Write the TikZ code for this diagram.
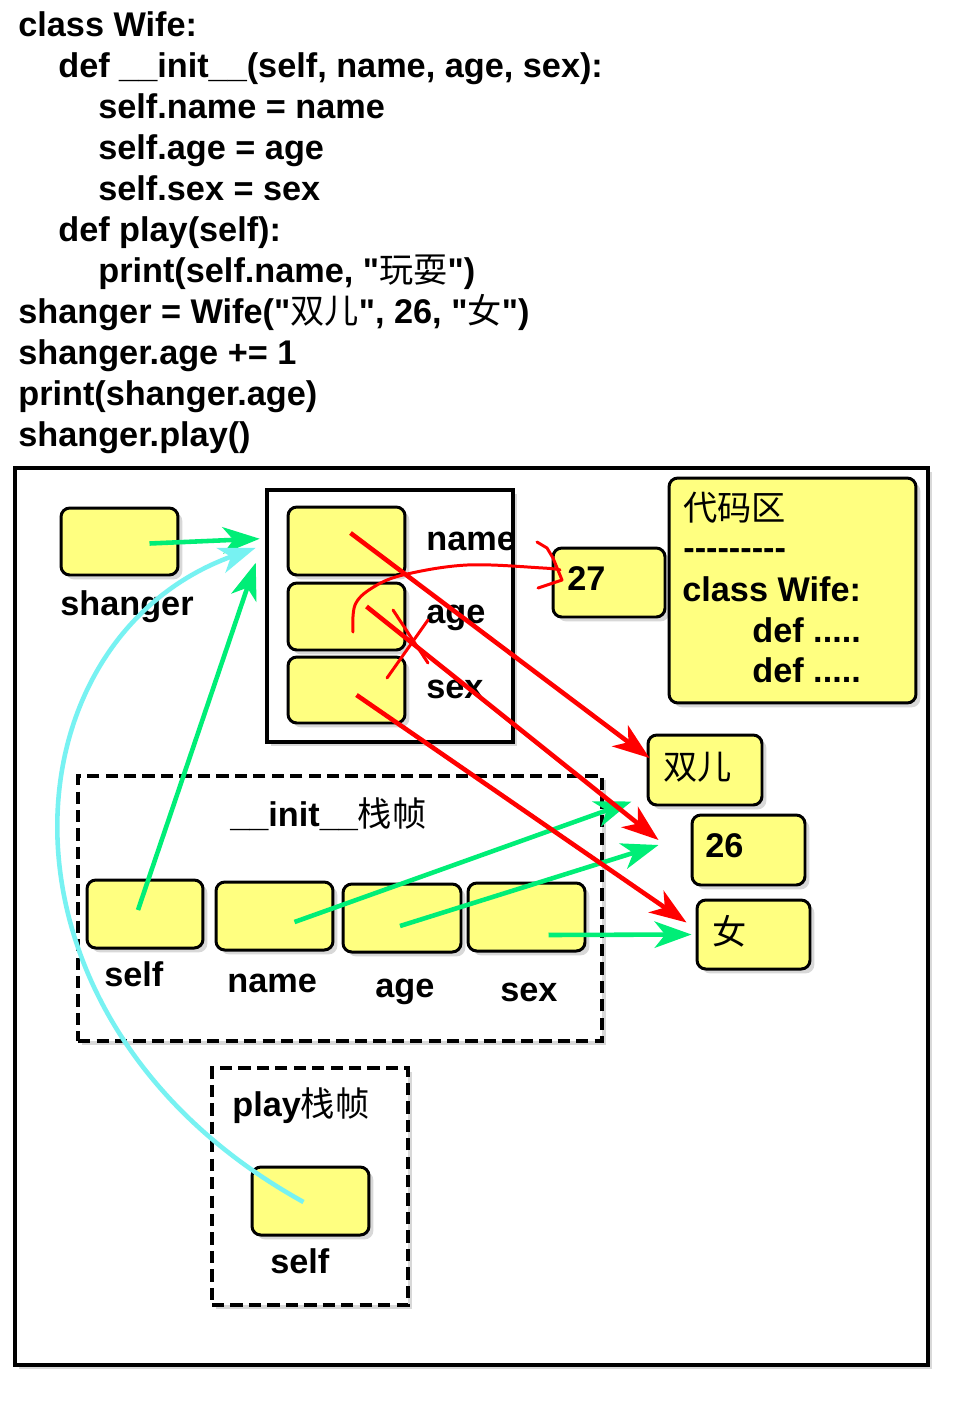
\documentclass[tikz,border=0pt]{standalone}
\usepackage{fontspec}
\setmainfont{Liberation Sans}[Ligatures=TeXOff]
\newfontfamily\cjk{Noto Sans CJK SC}
\usetikzlibrary{arrows.meta,shadows,calc}
\definecolor{boxyellow}{HTML}{FFFF80}
\definecolor{arrgreen}{HTML}{00EE77}
\definecolor{arrred}{HTML}{FF0000}
\definecolor{arrcyan}{HTML}{77F2F2}
\newcommand{\zh}[1]{{\cjk\mdseries #1}}
\newcommand{\hy}{\mbox{-}}
\begin{document}
\begin{tikzpicture}[x=0.02cm,y=-0.02cm,
  font={\fontsize{19.5}{23.4}\selectfont\bfseries},
  shad/.style={drop shadow={shadow xshift=2.5pt,shadow yshift=-2.5pt,opacity=0.3}},
  slotbox/.style={draw=black, line width=1.7pt, fill=boxyellow, rounded corners=5pt, inner sep=0pt, shad},
  txt/.style={inner sep=0pt, anchor=base west},
  framebox/.style={draw=black, line width=1.8pt, dash pattern=on 7pt off 3.5pt, inner sep=0pt, fill=white, shad},
  tipA/.style={-{Stealth[length=21pt,width=15pt,inset=6pt]}},
  gar/.style={draw=arrgreen, line width=2.6pt, tipA},
  rar/.style={draw=arrred, line width=2.6pt, tipA},
  car/.style={draw=arrcyan, line width=2.6pt, tipA},
  hand/.style={draw=arrred, line width=1.7pt, line cap=round, line join=round}]
\useasboundingbox (0,0) rectangle (967,1403);

% code listing
\node[txt] (c1) at (18,36) {class Wife:};
\node[txt] (c2) at (58,77) {def \_\_init\_\_(self, name, age, sex):};
\node[txt] (c3) at (98,118) {self.name = name};
\node[txt] (c4) at (98,159) {self.age = age};
\node[txt] (c5) at (98,200) {self.sex = sex};
\node[txt] (c6) at (58,241) {def play(self):};
\node[txt] (c7) at (98,282) {print(self.name, "\zh{玩耍}")};
\node[txt] (c8) at (18,323) {shanger = Wife("\zh{双儿}", 26, "\zh{女}")};
\node[txt] (c9) at (18,364) {shanger.age += 1};
\node[txt] (c10) at (18,405) {print(shanger.age)};
\node[txt] (c11) at (18,446) {shanger.play()};

% memory area
\node[draw=black, line width=2.2pt, fill=white, inner sep=0pt, shad,
      minimum width=18.26cm, minimum height=17.94cm] (mem) at (471.5,916.5) {};

% frames
\node[framebox, minimum width=10.48cm, minimum height=5.3cm] (initf) at (340,908.5) {};
\node[framebox, minimum width=3.92cm, minimum height=4.74cm] (playf) at (310,1186.5) {};

% object
\node[draw=black, line width=2.6pt, fill=white, inner sep=0pt, shad,
      minimum width=4.92cm, minimum height=5.04cm] (obj) at (390,616) {};
\node[slotbox, minimum width=2.34cm, minimum height=1.36cm] (o1) at (346.5,541) {};
\node[slotbox, minimum width=2.34cm, minimum height=1.34cm] (o2) at (346.5,616.5) {};
\node[slotbox, minimum width=2.34cm, minimum height=1.32cm] (o3) at (346.5,690) {};
\node[txt] (lo1) at (426,550) {name};
\node[txt] (lo2) at (426,623) {age};
\node[txt] (lo3) at (426,698) {sex};

% shanger
\node[slotbox, minimum width=2.34cm, minimum height=1.34cm] (shv) at (119.5,541.5) {};
\node[txt] (lsh) at (60,615) {shanger};

% values
\node[slotbox, minimum width=2.24cm, minimum height=1.38cm] (v27) at (609,582.5) {};
\node[txt] (t27) at (567,590) {27};
\node[slotbox, minimum width=4.94cm, minimum height=4.5cm] (code) at (792.5,590.5) {};
\node[txt] (k1) at (683,520) {\zh{代码区}};
\node[txt] (k2) at (683,559) {\hy\hy\hy\hy\hy\hy\hy\hy\hy};
\node[txt] (k3) at (682,601) {class Wife:};
\node[txt] (k4) at (752,642) {def .....};
\node[txt] (k5) at (752,682) {def .....};
\node[slotbox, minimum width=2.28cm, minimum height=1.4cm] (vsh) at (705,770) {};
\node[txt] (tsh) at (663,779) {\zh{双儿}};
\node[slotbox, minimum width=2.26cm, minimum height=1.4cm] (v26) at (748.5,850) {};
\node[txt] (t26) at (705,857) {26};
\node[slotbox, minimum width=2.26cm, minimum height=1.38cm] (vnv) at (753.5,934.5) {};
\node[txt] (tnv) at (712,944) {\zh{女}};

% init frame contents
\node[txt] (linit) at (230,826) {\_\_init\_\_\zh{栈帧}};
\node[slotbox, minimum width=2.32cm, minimum height=1.36cm] (s1) at (145,914) {};
\node[slotbox, minimum width=2.34cm, minimum height=1.36cm] (n1) at (274.5,916) {};
\node[slotbox, minimum width=2.36cm, minimum height=1.36cm] (a1) at (402,918) {};
\node[slotbox, minimum width=2.34cm, minimum height=1.36cm] (x1) at (526.5,917) {};
\node[txt] (ls1) at (104,986) {self};
\node[txt] (ln1) at (227,992) {name};
\node[txt] (la1) at (375,997) {age};
\node[txt] (lx1) at (500,1001) {sex};

% play frame contents
\node[txt] (lplay) at (232,1116) {play\zh{栈帧}};
\node[slotbox, minimum width=2.34cm, minimum height=1.36cm] (ps) at (310.5,1201) {};
\node[txt] (lps) at (270,1273) {self};

% green arrows
\draw[gar] ($(shv.center)+(30,2)$) -- ($(obj.north west)+(-5,51)$);
\draw[gar] ($(s1.center)+(-7,-4)$) -- ($(obj.north west)+(-9,75)$);
\draw[gar] ($(n1.center)+(20,6)$) -- ($(vsh.south west)+(-15,-5)$);
\draw[gar] ($(a1.center)+(-2,8)$) -- ($(v26.west)+(-32,-5)$);
\draw[gar] ($(x1.center)+(22,18)$) -- ($(vnv.west)+(-4,0)$);

% cyan arrow
\draw[car] ($(ps.center)+(-7,1)$) .. controls (-25,1020) and (0,640) .. ($(obj.north west)+(-9,60)$);

% red arrows
\draw[rar] ($(o1.center)+(4,-8)$) -- ($(vsh.west)+(3,-12)$);
\draw[rar] ($(o2.center)+(20,-10)$) -- ($(v26.west)+(-32,-10)$);
\draw[rar] ($(o3.center)+(10,5)$) -- ($(vnv.west)+(-9,-12)$);

% hand-drawn reassignment to 27
\draw[hand] plot[smooth, tension=0.6] coordinates {(353,632) (355,605) (372,588) (403,575) (467,565) (543,568) (560,570)};
\draw[hand] (537,542) -- (547,548) -- (553,558) -- (562,580) -- (538,588);
% cross-out
\draw[hand] (393,610) -- (428,663);
\draw[hand] (428,620) -- (387,678);
\end{tikzpicture}
\end{document}
